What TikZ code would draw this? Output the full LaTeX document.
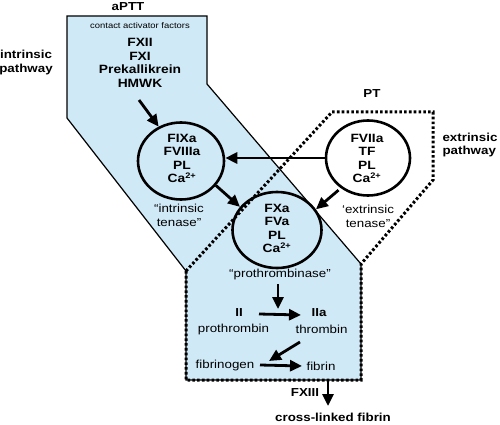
\documentclass[tikz,border=0pt]{standalone}
\usepackage{fontspec}
\setmainfont{Liberation Sans}[FakeStretch=1.15]
\usetikzlibrary{arrows.meta,shapes.geometric}
\definecolor{bluefill}{RGB}{207,233,246}
\begin{document}
\begin{tikzpicture}[x=1pt,y=-1pt,
  ell/.style={ellipse, draw, line width=2.6pt, inner sep=0pt},
  arr/.style={line width=2.8pt, -{Triangle[length=12pt,width=11pt]}},
  dotline/.style={line width=3pt, dash pattern=on 2.6pt off 2.2pt},
  bl/.style={font=\fontsize{11.6}{13.5}\selectfont\bfseries, align=center, inner sep=0pt},
  ct/.style={font=\fontsize{12}{13.5}\selectfont\bfseries, align=center, inner sep=0pt},
  rt/.style={font=\fontsize{11.6}{14}\selectfont, align=center, inner sep=0pt},
  sm/.style={font=\fontsize{8.2}{10}\selectfont, inner sep=0pt},
  fx/.style={font=\fontsize{12}{13.5}\selectfont\bfseries, align=center, inner sep=0pt}
]
\useasboundingbox (0,0) rectangle (500,425);
% intrinsic (blue) region
\fill[bluefill] (67,16) -- (207,16) -- (207,84) -- (361,264) -- (361,380) -- (186,380) -- (186,271) -- (67,118) -- cycle;
\draw[line width=1.2pt, line join=miter] (67,16) -- (207,16) -- (207,84) -- (361,264) -- (361,380) -- (186,380) -- (186,271) -- (67,118) -- cycle;
% extrinsic + common dotted region
\draw[dotline] (186,271) -- (332,112) -- (433,112) -- (433,180) -- (361,264) -- (361,380) -- (186,380) -- cycle;

% labels
\node[bl] (aptt) at (128,7) {aPTT};
\node[sm] (contact) at (140,26) {contact activator factors};
\node[fx] (fxii) at (140,42.5) {FXII};
\node[fx] (fxi) at (140,56) {FXI};
\node[fx] (prek) at (140,69.5) {Prekallikrein};
\node[fx] (hmwk) at (140,83) {HMWK};
\node[bl] (intr) at (26,62.5) {intrinsic\\pathway};
\node[bl] (pt) at (372,94) {PT};
\node[bl, align=left] (extr) at (470,145) {extrinsic\\pathway};

% complexes
\node[ell, minimum width=86pt, minimum height=77pt] (fixa) at (181,161) {};
\node[ct] (fixat) at (182,158.5) {FIXa\\FVIIIa\\PL\\Ca\textsuperscript{2+}};
\node[rt] (itn) at (179,215.5) {``intrinsic\\tenase''};

\node[ell, minimum width=84pt, minimum height=75pt] (fviia) at (368,158) {};
\node[ct] (fviiat) at (367,158.5) {FVIIa\\TF\\PL\\Ca\textsuperscript{2+}};
\node[rt] (etn) at (368,216) {`extrinsic\\tenase''};

\node[ell, minimum width=89pt, minimum height=76pt] (fxa) at (277,230) {};
\node[ct] (fxat) at (277,228.5) {FXa\\FVa\\PL\\Ca\textsuperscript{2+}};
\node[rt] (pb) at (280,274) {``prothrombinase''};

% common pathway
\node[bl] (ii) at (239,312.5) {II};
\node[rt] (prot) at (233.5,329.5) {prothrombin};
\node[bl] (iia) at (319,312.5) {IIa};
\node[rt] (thr) at (321.5,329.5) {thrombin};
\node[rt] (fbg) at (225,365) {fibrinogen};
\node[rt] (fbn) at (321,366) {fibrin};
\node[bl] (fxiii) at (305,393) {FXIII};
\node[bl] (clf) at (333,417) {cross-linked fibrin};

% connector ends
\coordinate (h1) at (139,100);
\coordinate (p1) at (278,284);
\coordinate (p2) at (278,309);
\coordinate (t1) at (259,314);
\coordinate (t2) at (301,315);
\coordinate (f1) at (300,342);
\coordinate (f2) at (269,361);
\coordinate (g1) at (260,365);
\coordinate (g2) at (302,366);
\coordinate (b1) at (328,380);
\coordinate (b2) at (328,406);

% connectors
\draw[arr] (h1) -- (fixa.123);
\draw[arr] (fixa.-35) -- (fxa.148);
\draw[arr] (fviia.west) -- (fviia.west -| fixa.east);
\draw[arr, shorten <=3pt] (fviia.228) -- (fxa.28);
\draw[arr] (p1) -- (p2);
\draw[arr] (t1) -- (t2);
\draw[arr] (f1) -- (f2);
\draw[arr] (g1) -- (g2);
\draw[arr] (b1) -- (b2);
\end{tikzpicture}
\end{document}
